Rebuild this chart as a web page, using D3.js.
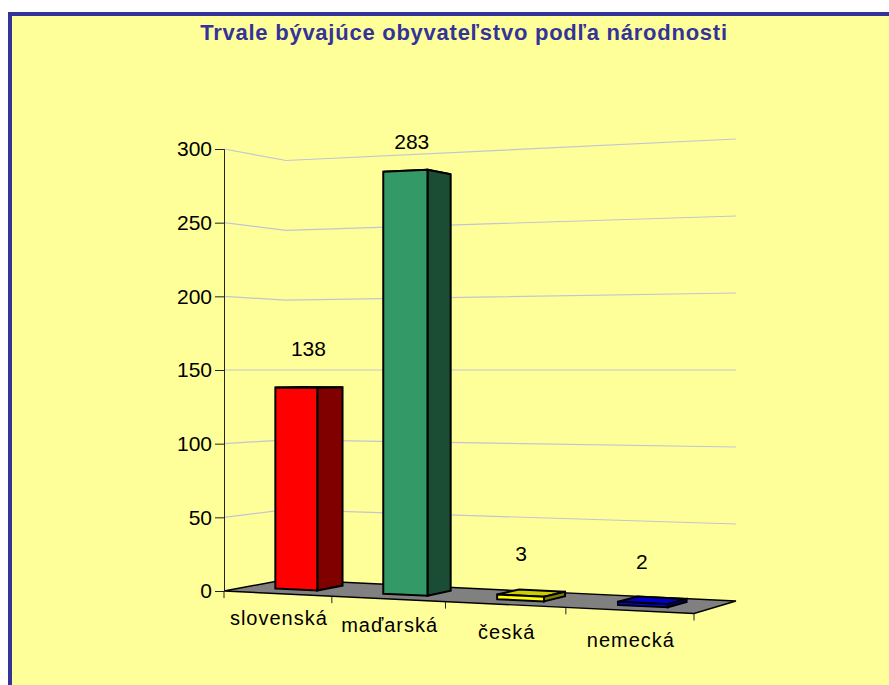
<!DOCTYPE html>
<html><head><meta charset="utf-8">
<script src="https://cdn.jsdelivr.net/npm/d3@7"></script>
<style>html,body{margin:0;padding:0;background:#fff;overflow:hidden}svg{display:block}text{font-family:"Liberation Sans",Arial,sans-serif}</style>
</head><body><div id="c"></div>
<script>
const titleText = "Trvale bývajúce obyvateľstvo podľa národnosti";
const categories = ["slovenská","maďarská","česká","nemecká"];
const values = [138,283,3,2];
const yTicks = [0,50,100,150,200,250,300];
const frontColors = ["#FF0000","#339966","#FFFF00","#0000FF"];
const sideColors = ["#800000","#1A4D33","#808000","#000080"];
const topColors = ["#CC0000","#287A52","#CCCC00","#0000CC"];

const W=889,H=685;
const svg=d3.select("#c").append("svg").attr("width",W).attr("height",H);
svg.append("rect").attr("x",10).attr("y",14).attr("width",W+20).attr("height",H+20)
  .attr("fill","#FFFF99").attr("stroke","#333399").attr("stroke-width",4);
svg.append("text").attr("x",464).attr("y",40).attr("text-anchor","middle")
  .attr("font-size",22).attr("letter-spacing",0.75).attr("font-weight","bold").attr("fill","#333399").text(titleText);

// Perspective projection: floor quad corners, horizon at the value where gridlines are flat
const quad={a:[224,591],b:[694,613.5],c:[736,601],d:[286,579.5]};
const horizonY=370, horizonV=150;
function homography(q){
  const [x0,y0]=q.a,[x1,y1]=q.b,[x2,y2]=q.c,[x3,y3]=q.d;
  const dx1=x1-x2,dx2=x3-x2,sx=x0-x1+x2-x3,dy1=y1-y2,dy2=y3-y2,sy=y0-y1+y2-y3;
  const den=dx1*dy2-dx2*dy1;
  const g=(sx*dy2-dx2*sy)/den,h=(dx1*sy-sx*dy1)/den;
  const A=x1-x0+g*x1,B=x3-x0+h*x3,D=y1-y0+g*y1,E=y3-y0+h*y3;
  return (s,t)=>{const k=g*s+h*t+1;return [(A*s+B*t+x0)/k,(D*s+E*t+y0)/k];};
}
const floorH=homography(quad);
// category slots widen toward the viewer's side
const uScale=d3.scaleLinear().domain([0,1,2,3,4]).range([0,0.23,0.472,0.728,1]);
const heightScale=d3.scaleLinear().domain([0,horizonV]).range([1,0]);
function project(u,v,w){
  const [x,y]=floorH(uScale(u),w);
  return [x,horizonY+(y-horizonY)*heightScale(v)];
}
const poly=pts=>d3.line()(pts)+"Z";

// floor
svg.append("path").attr("d",poly([project(0,0,0),project(categories.length,0,0),project(categories.length,0,1),project(0,0,1)]))
  .attr("fill","#808080").attr("stroke","#000").attr("stroke-width",1.4);

// gridlines on the two walls
svg.append("g").selectAll("path").data(yTicks.filter(v=>v>0)).join("path")
  .attr("d",v=>d3.line()([project(0,v,0),project(0,v,1),project(categories.length,v,1)]))
  .attr("fill","none").attr("stroke","#C4C4D4").attr("stroke-width",1.2);

// value axis
const yAxisScale=d3.scaleLinear().domain([0,300]).range([project(0,0,0)[1],project(0,300,0)[1]]);
const gy=svg.append("g").attr("transform",`translate(${project(0,0,0)[0]},0)`)
  .call(d3.axisLeft(yAxisScale).tickValues(yTicks).tickSize(9).tickPadding(3).tickFormat(d3.format("d")));
gy.select(".domain").attr("stroke","#222");
gy.selectAll("line").attr("stroke","#222");
gy.selectAll("text").attr("font-size",21).attr("font-family",'"Liberation Sans",Arial,sans-serif').attr("fill","#000");

// category ticks
svg.append("g").selectAll("path").data(d3.range(categories.length+1)).join("path")
  .attr("d",i=>{const p=project(i,0,0);return d3.line()([p,[p[0],p[1]+7]]);})
  .attr("stroke","#222").attr("stroke-width",1);

// bars
const barU=[0.285,0.68], barW=[0.33,0.76];
const bars=svg.append("g").selectAll("g").data(values).join("g")
  .attr("stroke","#000").attr("stroke-width",2).attr("stroke-linejoin","miter");
const corner=(i,v,a,b)=>project(i+barU[a],v,barW[b]);
bars.append("path").attr("fill",(d,i)=>topColors[i])
  .attr("d",(v,i)=>poly([corner(i,v,0,0),corner(i,v,1,0),corner(i,v,1,1),corner(i,v,0,1)]));
bars.append("path").attr("fill",(d,i)=>sideColors[i])
  .attr("d",(v,i)=>poly([corner(i,0,1,0),corner(i,0,1,1),corner(i,v,1,1),corner(i,v,1,0)]));
bars.append("path").attr("fill",(d,i)=>frontColors[i])
  .attr("d",(v,i)=>poly([corner(i,0,0,0),corner(i,0,1,0),corner(i,v,1,0),corner(i,v,0,0)]));

// data labels
const labelShift=[[0,-31],[-5,-23],[-10,-33],[-11,-32]];
svg.append("g").selectAll("text").data(values).join("text")
  .attr("text-anchor","middle").attr("font-size",21).attr("fill","#000")
  .attr("x",(v,i)=>project(i+0.5,v,0.5)[0]+labelShift[i][0])
  .attr("y",(v,i)=>project(i+0.5,v,0.5)[1]+labelShift[i][1])
  .text(d=>d);

// category labels
svg.append("g").selectAll("text").data(categories).join("text")
  .attr("text-anchor","middle").attr("font-size",20).attr("letter-spacing",1).attr("fill","#000")
  .attr("x",(c,i)=>project(i+0.5,0,0)[0]+1)
  .attr("y",(c,i)=>project(i+0.5,0,0)[1]+31+i*2)
  .text(d=>d);
</script></body></html>
